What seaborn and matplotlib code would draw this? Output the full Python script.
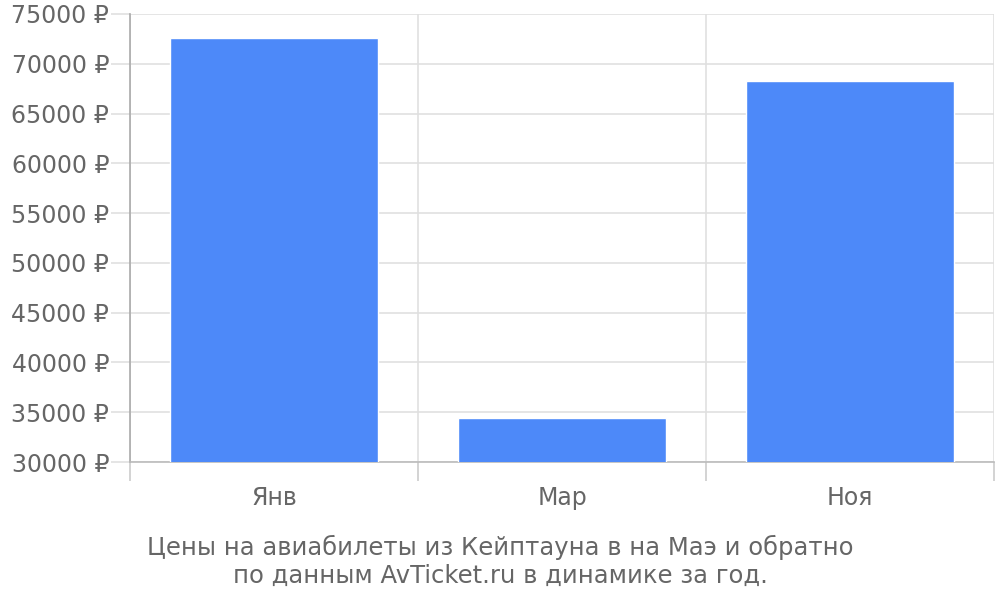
import matplotlib
matplotlib.use("Agg")
import matplotlib.pyplot as plt
import seaborn as sns
import pandas as pd

# Data
months = ["Янв", "Мар", "Ноя"]
prices = [72600, 34400, 68300]
y_ticks = list(range(30000, 75001, 5000))
caption = "Цены на авиабилеты из Кейптауна в на Маэ и обратно\nпо данным AvTicket.ru в динамике за год."

sns.set_style("white")
plt.rcParams["font.family"] = ["DejaVu Sans"]

text_color = "#666666"
grid_color = "#e0e0e0"

df = pd.DataFrame({"month": months, "price": prices})

fig = plt.figure(figsize=(10, 6), dpi=100)
ax = fig.add_axes([0.13, 0.23, 0.864, 0.7467])

sns.barplot(data=df, x="month", y="price", color="#4d89f9", saturation=1,
            width=0.72, ax=ax, zorder=3)

ax.set_ylim(30000, 75000)
ax.set_xlim(-0.5, 2.5)
ax.set_yticks(y_ticks)
ax.set_yticklabels([f"{v} ₽" for v in y_ticks])
ax.set_xticks([-0.5, 0.5, 1.5, 2.5], minor=True)

ax.grid(axis="y", color=grid_color, linewidth=1.2, zorder=0)
ax.grid(axis="x", which="minor", color=grid_color, linewidth=1.2, zorder=0)

ax.tick_params(axis="y", left=True, length=14, width=1.2, color=grid_color, pad=1,
               labelsize=17, labelcolor=text_color)
ax.tick_params(axis="x", which="major", bottom=True, length=0, pad=17,
               labelsize=17, labelcolor=text_color)
ax.tick_params(axis="x", which="minor", bottom=True, length=14, width=1.2,
               color="#cccccc")

for s in ["top", "right"]:
    ax.spines[s].set_visible(False)
ax.spines["left"].set_color("#aaaaaa")
ax.spines["left"].set_linewidth(1.2)
ax.spines["bottom"].set_color("#bbbbbb")
ax.spines["bottom"].set_linewidth(1.2)

ax.set_xlabel("")
ax.set_ylabel("")

fig.text(0.5, 0.064, caption, ha="center", va="center", fontsize=17.5,
         color=text_color, linespacing=1.2)

fig.savefig("out.png", dpi=100)
